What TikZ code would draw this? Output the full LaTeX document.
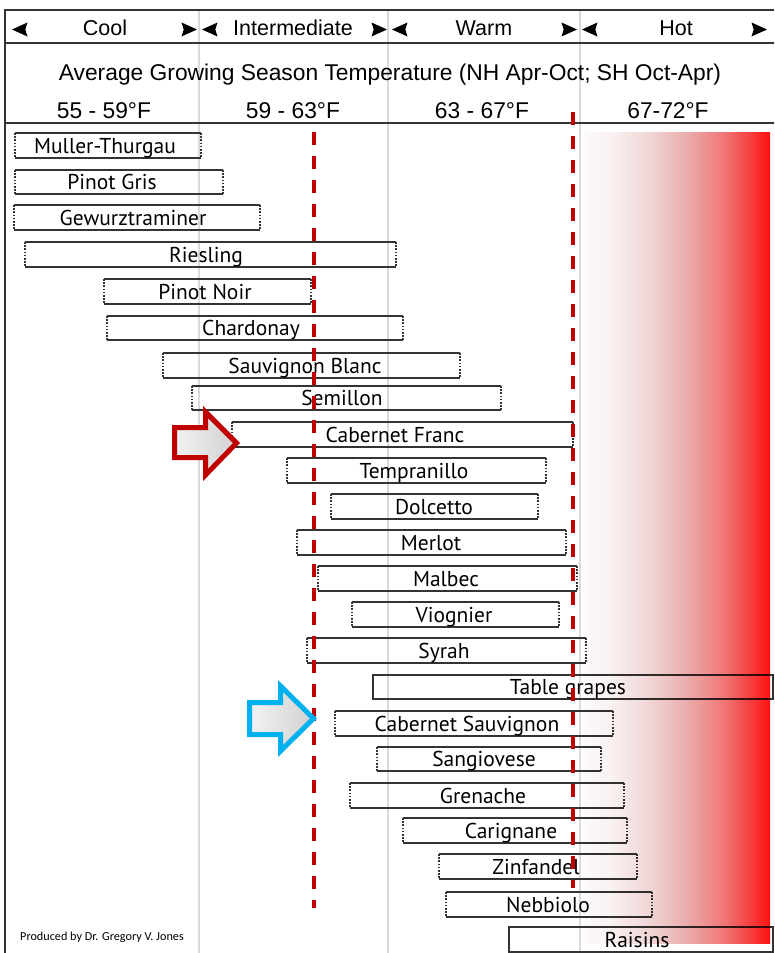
\documentclass[tikz,border=0pt]{standalone}
\usepackage{fontspec}
\setmainfont{Liberation Sans}
\newfontfamily\grapefont{PT Sans}
\newfontfamily\notefont{Carlito}
\definecolor{frame}{HTML}{333333}
\definecolor{colline}{HTML}{DADADA}
\definecolor{dashred}{HTML}{C00000}
\definecolor{arrowblue}{HTML}{00B0F0}
\pgfdeclarehorizontalshading{heat}{100bp}{rgb(0bp)=(1,1,1); rgb(25bp)=(0.99,0.98,0.98); rgb(32.5bp)=(0.98,0.945,0.945); rgb(42.5bp)=(0.94,0.84,0.84); rgb(52.5bp)=(0.92,0.68,0.68); rgb(62.5bp)=(0.94,0.47,0.47); rgb(70bp)=(0.97,0.24,0.24); rgb(75bp)=(1,0.06,0.06); rgb(100bp)=(1,0.06,0.06)}
\tikzset{
  frameline/.style={draw=frame, line width=2pt},
  colsep/.style={draw=colline, line width=1.5pt},
  hdr/.style={font=\fontsize{21.5}{24}\selectfont, text=black, inner sep=0pt, anchor=base},
  hdrbig/.style={hdr, font=\fontsize{22.8}{25}\selectfont},
  boxnode/.style={inner sep=0pt, outer sep=0pt},
  edgeline/.style={draw=frame, line width=1.5pt},
  sideline/.style={draw=frame, line width=1.4pt, dash pattern=on 1.6pt off 1.6pt},
  lab/.style={font=\grapefont\fontsize{21.5}{23}\selectfont, text=black, inner sep=0pt, anchor=base},
  reddash/.style={draw=dashred, line width=3.5pt, dash pattern=on 13pt off 11pt},
  tri/.style={fill=black},
  bigarrow/.style={line width=5pt, line join=miter, left color=white!95!black, right color=white!82!black},
}
\begin{document}
\begin{tikzpicture}[x=1pt,y=-1pt]
\fill[white] (0,0) rectangle (774,953);
\useasboundingbox (0,0) rectangle (774,953);

% column separators
\foreach \cx in {199,388,580} \draw[colsep] (\cx,10) -- (\cx,953);

% frame
\draw[frameline] (5,953) -- (5,10) -- (774,10);
\draw[frameline] (5,43) -- (774,43);
\draw[frameline] (5,123) -- (774,123);

% header: zones with triangles
\foreach \tx in {12,202,392,582}
  \fill[tri] (\tx,29.5) -- ++(15.5,-7) -- ++(-2.2,7) -- ++(2.2,7) -- cycle;
\foreach \tx in {197,387,577,767}
  \fill[tri] (\tx,29.5) -- ++(-15.5,-7) -- ++(2.2,7) -- ++(-2.2,7) -- cycle;
\node[hdr] (cool) at (105,35) {Cool};
\node[hdr] (inter) at (293,35) {Intermediate};
\node[hdr] (warm) at (484,35) {Warm};
\node[hdr] (hot) at (676,35) {Hot};
\node[hdrbig] (title) at (390,80) {Average Growing Season Temperature (NH Apr-Oct; SH Oct-Apr)};
\node[hdrbig] (t1) at (104,118) {55 - 59°F};
\node[hdrbig] (t2) at (293,118) {59 - 63°F};
\node[hdrbig] (t3) at (482,118) {63 - 67°F};
\node[hdrbig] (t4) at (668,118) {67-72°F};

% grape boxes
\foreach \n/\a/\b/\c/\d/\lx/\t in {
  1/15/201/133/158/105/Muller-Thurgau,
  2/15/223/170/194/112/Pinot Gris,
  3/14/260/205/230/133/Gewurztraminer,
  4/25/396/242/267/206/Riesling,
  5/104/311/279/304/205/Pinot Noir,
  6/107/403/316/340/251/Chardonay,
  7/163/460/353/378/305/Sauvignon Blanc,
  8/192/501/386/410/342/Semillon,
  9/232/573/422/447/395/Cabernet Franc,
  10/287/546/458/483/414/Tempranillo,
  11/331/538/494/519/434/Dolcetto,
  12/297/566/530/555/431/Merlot,
  13/318/577/566/591/446/Malbec,
  14/352/559/602/627/454/Viognier,
  15/307/586/638/663/444/Syrah,
  17/335/613/711/736/467/Cabernet Sauvignon,
  18/377/601/747/771/484/Sangiovese,
  19/350/624/783/808/483/Grenache,
  20/403/627/818/843/511/Carignane,
  21/439/637/854/879/536/Zinfandel,
  22/446/652/892/917/548/Nebbiolo}{
  \node[boxnode, minimum width={(\b-\a)*1pt}, minimum height={(\d-\c)*1pt}, anchor=north west] (g\n) at (\a,\c) {};
  \draw[edgeline] (g\n.north west) -- (g\n.north east);
  \draw[edgeline] (g\n.south west) -- (g\n.south east);
  \draw[sideline] (g\n.north west) -- (g\n.south west);
  \draw[sideline] (g\n.north east) -- (g\n.south east);
  \node[lab] (l\n) at (\lx,{(\c+\d)/2+7.5}) {\t};
}
\foreach \n/\a/\b/\c/\d/\lx/\t in {
  16/373/773/675/699/568/Table grapes,
  23/509/773/927/952/637/Raisins}{
  \node[boxnode, draw=frame, line width=1.8pt, minimum width={(\b-\a)*1pt}, minimum height={(\d-\c)*1pt}, anchor=north west] (g\n) at (\a,\c) {};
  \node[lab] (l\n) at (\lx,{(\c+\d)/2+7.5}) {\t};
}

% heat gradient
\begin{scope}[blend mode=multiply]
\shade[shading=heat] (583,132) rectangle (770,943);
\end{scope}

% red dashed limits
\coordinate (d1a) at (314,132);
\coordinate (d1b) at (314,908);
\coordinate (d2a) at (573,112);
\coordinate (d2b) at (573,888);
\draw[reddash] (d1a) -- (d1b);
\draw[reddash] (d2a) -- (d2b);

% block arrows
\draw[bigarrow, draw=dashred] (174.5,427.5) -- (205.5,427.5) -- (205.5,412) -- (236.5,443) -- (205.5,475) -- (205.5,457.5) -- (174.5,457.5) -- cycle;
\draw[bigarrow, draw=arrowblue] (249.5,702.5) -- (280.5,702.5) -- (280.5,686) -- (313.5,718.5) -- (280.5,751) -- (280.5,734.5) -- (249.5,734.5) -- cycle;

% footer
\node[inner sep=0pt, anchor=base west, font=\notefont\fontsize{12.2}{14}\selectfont] (credit) at (20,940) {Produced by Dr. Gregory V. Jones};
\end{tikzpicture}
\end{document}
